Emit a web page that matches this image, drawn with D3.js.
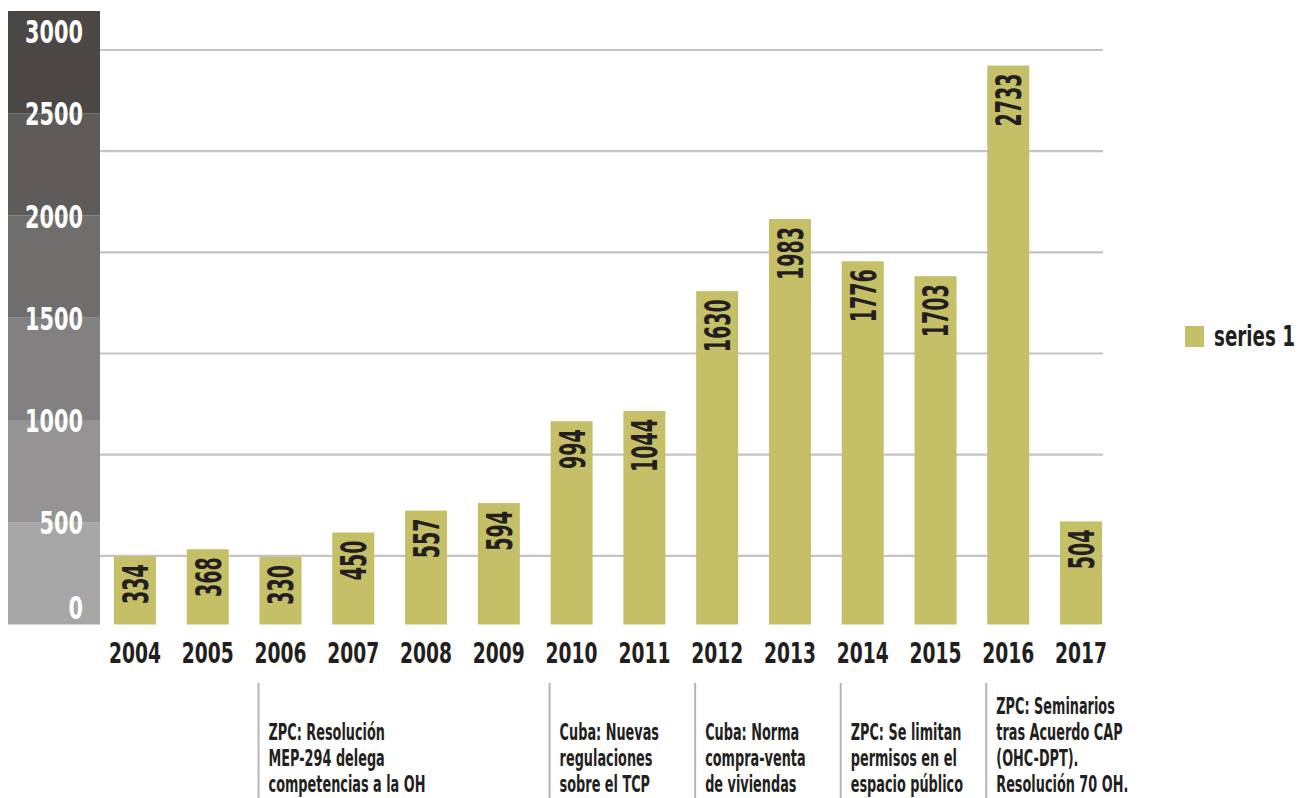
<!DOCTYPE html>
<html>
<head>
<meta charset="utf-8">
<script src="https://cdn.jsdelivr.net/npm/d3@7"></script>
<style>
  html, body { margin: 0; padding: 0; background: #ffffff; }
  svg { display: block; }
  text { font-family: "Liberation Sans Narrow", "DejaVu Sans Condensed", "Liberation Sans", sans-serif; }
</style>
</head>
<body>
<svg id="chart" width="1298" height="798"></svg>
<script>
// ---- data ----
const years = ["2004","2005","2006","2007","2008","2009","2010","2011","2012","2013","2014","2015","2016","2017"];
const values = [334, 368, 330, 450, 557, 594, 994, 1044, 1630, 1983, 1776, 1703, 2733, 504];
const yTicks = [0, 500, 1000, 1500, 2000, 2500, 3000];
const gridValues = [500, 1000, 1500, 2000, 2500, 3000];
const bandColors = ["#a8a7a7", "#959394", "#828080", "#706e6c", "#5e5b59", "#4b4744"];
const seriesName = "series 1";
const annoYears = ["2006", "2010", "2012", "2014", "2016"];
const annoTexts = [
  ["ZPC: Resolución", "MEP-294 delega", "competencias a la OH"],
  ["Cuba: Nuevas", "regulaciones", "sobre el TCP"],
  ["Cuba: Norma", "compra-venta", "de viviendas"],
  ["ZPC: Se limitan", "permisos en el", "espacio público"],
  ["ZPC: Seminarios", "tras Acuerdo CAP", "(OHC-DPT).", "Resolución 70 OH."]
];

// ---- layout ----
const svg = d3.select("#chart");
const baseY = 624.5, topY = 11;
const bandX0 = 8, bandX1 = 100;
const gridX1 = 1103;
const textColor = "#231f20";
const barColor = "#c5bf67";

// horizontal squeeze factor so the installed font matches the condensed look
function fitScale(sample, size, weight, target) {
  const t = svg.append("text").attr("font-size", size).attr("font-weight", weight).text(sample);
  const w = t.node().getComputedTextLength();
  t.remove();
  return Math.min(1.2, target / w);
}
const sYear = fitScale("2004", 29, "bold", 52);
const sAxis = fitScale("3000", 32, "bold", 58);
const sBar = fitScale("2733", 36, "bold", 53);
const sAnno = fitScale("competencias a la OH", 23.5, "bold", 157);
const sLeg = fitScale("series 1", 28, "bold", 81);

const x = d3.scaleBand().domain(years).range([100, 1116]).paddingInner(0.423).paddingOuter(0.192);
const y = d3.scaleLinear().domain([0, 3000]).range([baseY, topY]);
const gridY = d3.scaleLinear().domain([0, 3000]).range([657, 50]);

// left colour band
const bands = d3.pairs(yTicks);
svg.append("g").selectAll("rect").data(bands).join("rect")
  .attr("x", bandX0).attr("width", bandX1 - bandX0)
  .attr("y", d => y(d[1])).attr("height", d => y(d[0]) - y(d[1]))
  .attr("fill", (d, i) => bandColors[i]);

// gridlines
svg.append("g").selectAll("line").data(gridValues).join("line")
  .attr("x1", bandX1).attr("x2", gridX1)
  .attr("y1", d => gridY(d)).attr("y2", d => gridY(d))
  .attr("stroke", "#c4c3c8").attr("stroke-width", 2.2);

// y axis labels
const yAxis = svg.append("g").attr("transform", "translate(83,0)")
  .call(d3.axisLeft(y).tickValues(yTicks).tickFormat(d3.format("d")).tickSize(0).tickPadding(0));
yAxis.select(".domain").remove();
yAxis.selectAll(".tick text")
  .attr("fill", "#ffffff").attr("font-size", 32).attr("font-weight", "bold")
  .attr("font-family", null)
  .attr("transform", `scale(${sAxis},1)`)
  .attr("dy", d => d === 3000 ? "0.98em" : (d === 0 ? "-0.2em" : "0.36em"));

// bars
const data = years.map((yr, i) => ({ year: yr, value: values[i] }));
svg.append("g").selectAll("rect").data(data).join("rect")
  .attr("x", d => x(d.year)).attr("width", x.bandwidth())
  .attr("y", d => y(d.value)).attr("height", d => y(0) - y(d.value))
  .attr("fill", barColor);

// bar value labels (rotated)
svg.append("g").selectAll("text").data(data).join("text")
  .attr("transform", d => `translate(${x(d.year) + x.bandwidth() / 2},${y(d.value) + 8}) rotate(-90) scale(${sBar},1)`)
  .attr("text-anchor", "end").attr("dy", "0.36em")
  .attr("font-size", 36).attr("font-weight", "bold").attr("fill", textColor)
  .text(d => d.value);

// x axis labels
const xAxis = svg.append("g").attr("transform", `translate(0,${baseY})`)
  .call(d3.axisBottom(x).tickSize(0).tickPadding(0));
xAxis.select(".domain").remove();
xAxis.selectAll(".tick text")
  .attr("font-family", null)
  .attr("font-size", 29).attr("font-weight", "bold").attr("fill", textColor)
  .attr("transform", `scale(${sYear},1)`)
  .attr("y", 38.5).attr("dy", 0);

// annotations
const ann = svg.append("g").selectAll("g").data(annoYears.map((yr, i) => ({ year: yr, lines: annoTexts[i] }))).join("g");
ann.append("line")
  .attr("x1", d => x(d.year) - 1).attr("x2", d => x(d.year) - 1)
  .attr("y1", 683).attr("y2", 798)
  .attr("stroke", "#b5b5b5").attr("stroke-width", 2);
ann.each(function(d) {
  const g = d3.select(this);
  const n = d.lines.length;
  g.selectAll("text").data(d.lines).join("text")
    .attr("transform", (t, j) => `translate(${x(d.year) + 9},${792 - (n - 1 - j) * 26}) scale(${sAnno},1)`)
    .attr("font-size", 23.5).attr("font-weight", "bold").attr("fill", textColor)
    .text(t => t);
});

// legend
const leg = svg.append("g");
leg.append("rect").attr("x", 1185).attr("y", 326).attr("width", 19).attr("height", 21).attr("fill", barColor);
leg.append("text")
  .attr("transform", `translate(1214,346) scale(${sLeg},1)`)
  .attr("font-size", 28).attr("font-weight", "bold").attr("fill", textColor)
  .text(seriesName);
</script>
</body>
</html>
